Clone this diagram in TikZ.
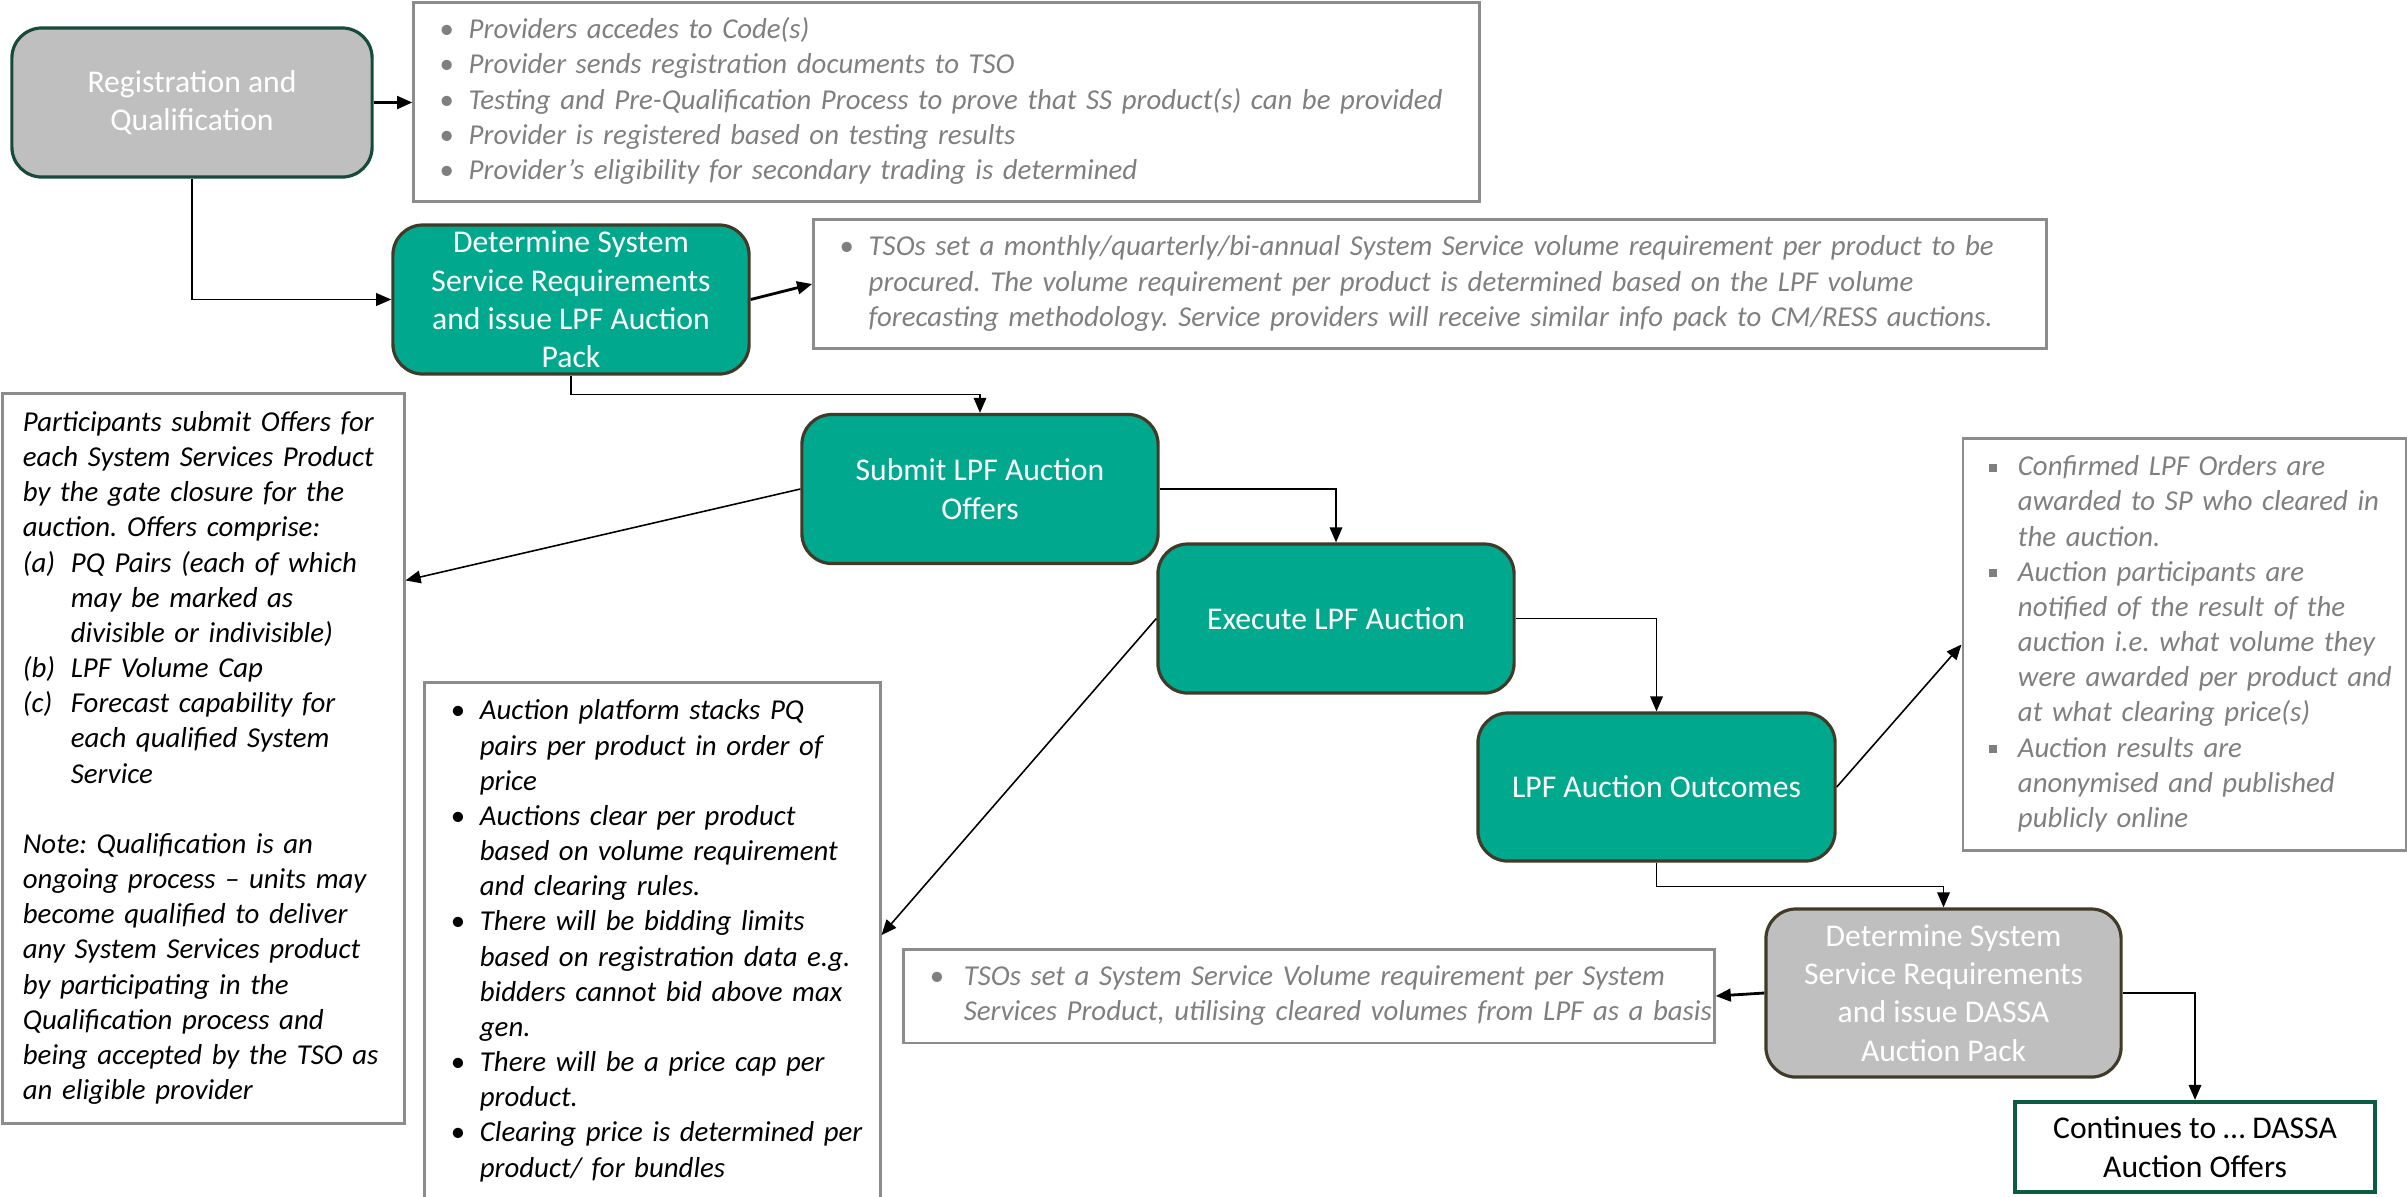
\documentclass[tikz,border=0pt]{standalone}
\usepackage{fontspec}
\setmainfont{Carlito}
\usepackage{xcolor}
\usetikzlibrary{arrows.meta}

\definecolor{lpfgreen}{RGB}{0,168,142}
\definecolor{stageline}{RGB}{66,58,40}
\definecolor{regline}{RGB}{22,74,58}
\definecolor{stagegray}{RGB}{191,191,191}
\definecolor{notegray}{RGB}{127,127,127}
\definecolor{noteline}{RGB}{140,140,140}
\definecolor{contline}{RGB}{12,92,64}

\setlength{\parindent}{0pt}
\frenchspacing
\newcommand{\wholeline}[1]{\multicolumn{2}{@{}l@{}}{#1}}
\newcommand{\sqbul}{\raisebox{0.3ex}{\rule{0.55ex}{0.55ex}}}
\newcommand{\rdbul}{\textup{\textbullet}}

\begin{document}
\begin{tikzpicture}[x=0.01cm, y=-0.01cm,
    >={Triangle[length=4.3pt,width=3.6pt]},
    stage/.style={draw=stageline, fill=lpfgreen, line width=0.9pt, rounded corners=0.3cm,
        text=white, align=center, inner sep=0pt, font=\fontsize{9}{10.9}\selectfont,
        minimum width=3.56cm, minimum height=1.49cm},
    note/.style={draw=noteline, line width=0.8pt, align=left, inner xsep=0.26cm,
        font=\fontsize{8.2}{10}\selectfont\itshape, text=notegray},
    link/.style={->, line width=0.45pt}]

    \useasboundingbox (0,0) rectangle (2407,1196);

    % Draw the process stages
    \node[stage, fill=stagegray, draw=regline, minimum width=3.6cm] (reg) at (192,102.5)
        {Registration and\\Qualification};
    \node[stage] (detlpf) at (571,299.5)
        {Determine System\\Service Requirements\\and issue LPF Auction\\Pack};
    \node[stage] (submit) at (980,489) {Submit LPF Auction\\Offers};
    \node[stage] (execute) at (1336,618.5) {Execute LPF Auction};
    \node[stage, minimum width=3.57cm, minimum height=1.48cm] (outcome) at (1656.5,787)
        {LPF Auction Outcomes};
    \node[stage, fill=stagegray, minimum width=3.55cm, minimum height=1.68cm] (detdassa) at (1943.5,993)
        {Determine System\\Service Requirements\\and issue DASSA\\Auction Pack};
    \node[stage, fill=white, draw=contline, text=black, rounded corners=0pt, line width=1.2pt,
        minimum width=3.6cm, minimum height=0.9cm] (cont) at (2195,1147)
        {Continues to … DASSA\\Auction Offers};

    % Draw the notes beside each stage
    \node[note, minimum width=10.65cm, minimum height=1.98cm, text width=10.13cm] (regnote) at (946.5,102)
        {\begin{tabular}{@{}p{0.29cm}@{}l@{}}
        \rdbul & Providers accedes to Code(s)\\
        \rdbul & Provider sends registration documents to TSO\\
        \rdbul & Testing and Pre-Qualification Process to prove that SS product(s) can be provided\\
        \rdbul & Provider is registered based on testing results\\
        \rdbul & Provider’s eligibility for secondary trading is determined
        \end{tabular}};
    \node[note, minimum width=12.32cm, minimum height=1.26cm, text width=11.8cm] (reqnote) at (1430,284)
        {\begin{tabular}{@{}p{0.29cm}@{}l@{}}
        \rdbul & TSOs set a monthly/quarterly/bi-annual System Service volume requirement per product to be\\
         & procured. The volume requirement per product is determined based on the LPF volume\\
         & forecasting methodology. Service providers will receive similar info pack to CM/RESS auctions.
        \end{tabular}};
    \node[note, text=black, inner xsep=0.2cm, minimum width=4.01cm, minimum height=7.29cm, text width=3.61cm]
        (offernote) at (203.5,758.5)
        {\begin{tabular}{@{}p{0.48cm}@{}l@{}}
        \wholeline{Participants submit Offers for}\\
        \wholeline{each System Services Product}\\
        \wholeline{by the gate closure for the}\\
        \wholeline{auction. Offers comprise:}\\
        (a) & PQ Pairs (each of which\\
         & may be marked as\\
         & divisible or indivisible)\\
        (b) & LPF Volume Cap\\
        (c) & Forecast capability for\\
         & each qualified System\\
         & Service\\
         & \\
        \wholeline{Note: Qualification is an}\\
        \wholeline{ongoing process – units may}\\
        \wholeline{become qualified to deliver}\\
        \wholeline{any System Services product}\\
        \wholeline{by participating in the}\\
        \wholeline{Qualification process and}\\
        \wholeline{being accepted by the TSO as}\\
        \wholeline{an eligible provider}
        \end{tabular}};
    \node[note, text=black, minimum width=4.55cm, minimum height=5.17cm, text width=4.03cm]
        (clearnote) at (652.5,941.5)
        {\begin{tabular}{@{}p{0.29cm}@{}l@{}}
        \rdbul & Auction platform stacks PQ\\
         & pairs per product in order of\\
         & price\\
        \rdbul & Auctions clear per product\\
         & based on volume requirement\\
         & and clearing rules.\\
        \rdbul & There will be bidding limits\\
         & based on registration data e.g.\\
         & bidders cannot bid above max\\
         & gen.\\
        \rdbul & There will be a price cap per\\
         & product.\\
        \rdbul & Clearing price is determined per\\
         & product/ for bundles
        \end{tabular}};
    \node[note, minimum width=4.43cm, minimum height=4.11cm, text width=3.91cm] (resultnote) at (2184.5,644.5)
        {\begin{tabular}{@{}p{0.29cm}@{}l@{}}
        \sqbul & Confirmed LPF Orders are\\
         & awarded to SP who cleared in\\
         & the auction.\\
        \sqbul & Auction participants are\\
         & notified of the result of the\\
         & auction i.e. what volume they\\
         & were awarded per product and\\
         & at what clearing price(s)\\
        \sqbul & Auction results are\\
         & anonymised and published\\
         & publicly online
        \end{tabular}};
    \node[note, minimum width=8.1cm, minimum height=0.92cm, text width=7.58cm] (volnote) at (1309,996)
        {\begin{tabular}{@{}p{0.34cm}@{}l@{}}
        \rdbul & TSOs set a System Service Volume requirement per System\\
         & Services Product, utilising cleared volumes from LPF as a basis
        \end{tabular}};

    % Connect the stages and their notes
    \draw[link, line width=0.8pt] (reg.east) -- (reg.east -| regnote.west);
    \draw[link] (reg.south) |- (detlpf.west);
    \draw[link, line width=0.8pt] (detlpf.east) -- (reqnote.west);
    \draw[link] (detlpf.south) -- ++(0,19) -| (submit.north);
    \draw[link] (submit.west) -- ([yshift=1.78cm]offernote.east);
    \draw[link] (submit.east) -| (execute.north);
    \draw[link] (execute.west) -- ([yshift=0.065cm]clearnote.east);
    \draw[link] (execute.east) -| (outcome.north);
    \draw[link] (outcome.east) -- (resultnote.west);
    \draw[link] (outcome.south) -- ++(0,24) -| (detdassa.north);
    \draw[link, line width=0.8pt] (detdassa.west) -- (volnote.east);
    \draw[link] (detdassa.east) -| (cont.north);
\end{tikzpicture}
\end{document}
